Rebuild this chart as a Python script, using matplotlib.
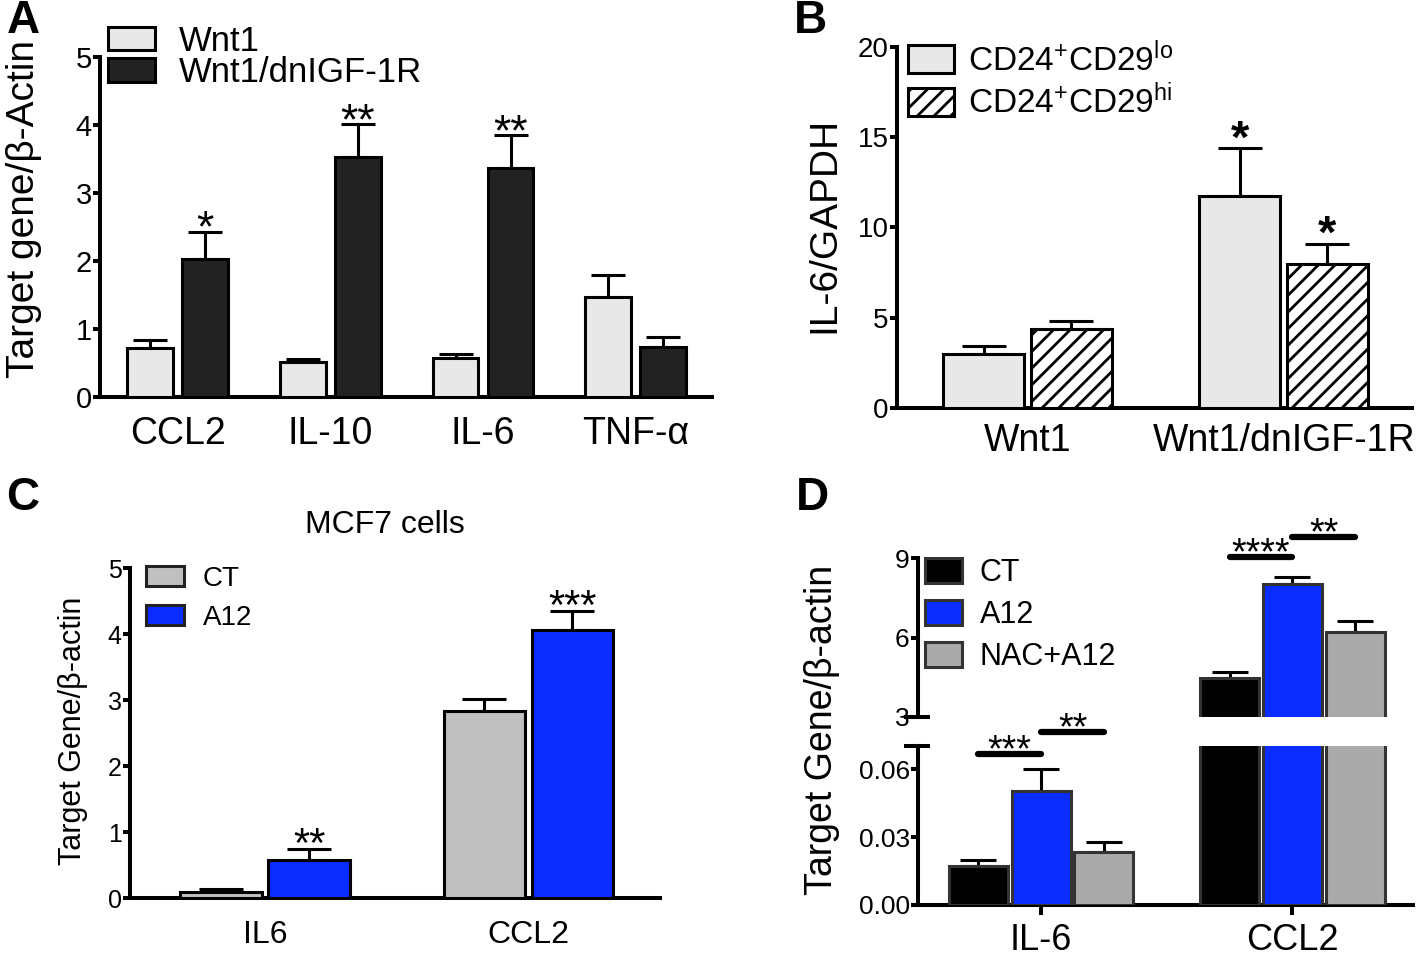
import numpy as np
import matplotlib
matplotlib.use('Agg')
import matplotlib.pyplot as plt
from matplotlib.patches import Patch

plt.rcParams['font.family'] = ['Liberation Sans', 'DejaVu Sans']
plt.rcParams['mathtext.fontset'] = 'custom'
plt.rcParams['mathtext.rm'] = 'Liberation Sans'
plt.rcParams['mathtext.it'] = 'Liberation Sans'
plt.rcParams['hatch.linewidth'] = 2.0

# Panel A
a_genes = ['CCL2', 'IL-10', 'IL-6', 'TNF-α']
a_wnt1 = [0.72, 0.51, 0.57, 1.47]
a_wnt1_err = [0.12, 0.05, 0.06, 0.32]
a_dn = [2.03, 3.53, 3.37, 0.74]
a_dn_err = [0.40, 0.48, 0.48, 0.14]
a_stars = ['*', '**', '**', '']

# Panel B
b_groups = ['Wnt1', 'Wnt1/dnIGF-1R']
b_lo = [2.99, 11.75]
b_lo_err = [0.44, 2.65]
b_hi = [4.38, 7.98]
b_hi_err = [0.44, 1.11]
b_stars_lo = ['', '*']
b_stars_hi = ['', '*']

# Panel C
c_genes = ['IL6', 'CCL2']
c_ct = [0.09, 2.83]
c_ct_err = [0.05, 0.18]
c_a12 = [0.58, 4.06]
c_a12_err = [0.17, 0.29]
c_stars = ['**', '***']

# Panel D
d_genes = ['IL-6', 'CCL2']
d_ct = [0.0172, 4.48]
d_ct_err = [0.0029, 0.21]
d_a12 = [0.0504, 8.02]
d_a12_err = [0.0097, 0.26]
d_nac = [0.0236, 6.20]
d_nac_err = [0.0043, 0.43]
# (group, bar from, bar to, label, height)
d_sig_low = [(0, 0, 1, '***', 0.0667), (0, 1, 2, '**', 0.0764)]
d_sig_up = [(1, 0, 1, '****', 9.04), (1, 1, 2, '**', 9.78)]

W = 1418
H = 956
fig = plt.figure(figsize=(W / 100, H / 100), dpi=100)

LW = 2.9
ELW = 2.2


def px_axes(x0, y0, x1, y1):
    # rectangle given in pixels from top-left
    return fig.add_axes([x0 / W, 1 - y1 / H, (x1 - x0) / W, (y1 - y0) / H])


def style(ax, ysize, xsize, xpad):
    for s in ['top', 'right']:
        ax.spines[s].set_visible(False)
    for s in ['left', 'bottom']:
        ax.spines[s].set_linewidth(LW)
    ax.tick_params(axis='y', direction='out', length=5, width=LW, pad=1, labelsize=ysize)
    ax.tick_params(axis='x', length=0, pad=xpad, labelsize=xsize)


def bars(ax, x, vals, errs, color, width, edge='k', hatch=None, cap=12):
    ax.bar(x, vals, width=width, color=color, edgecolor=edge, linewidth=ELW, hatch=hatch, zorder=3)
    ax.errorbar(x, vals, yerr=[np.zeros(len(errs)), errs], fmt='none', ecolor='k',
                elinewidth=ELW, capsize=cap, capthick=ELW, zorder=2)


def stars(ax, x, tops, labels, size, off=-6, weight='normal'):
    for xi, t, s in zip(x, tops, labels):
        if s:
            ax.annotate(s, (xi, t), xytext=(0, off), textcoords='offset points',
                        ha='center', va='baseline', fontsize=size, fontweight=weight,
                        annotation_clip=False)


# ---------- A ----------
ax = px_axes(100, 57, 712, 397)
x = np.arange(len(a_genes))
w = 0.30
bars(ax, x - 0.18, a_wnt1, a_wnt1_err, '#e8e8e8', w)
bars(ax, x + 0.18, a_dn, a_dn_err, '#222222', w)
stars(ax, x + 0.18, np.add(a_dn, a_dn_err), a_stars, 32, off=-7)
ax.set_xlim(-0.51, 3.50)
ax.set_ylim(0, 5)
ax.set_yticks(range(6))
ax.set_xticks(x)
ax.set_xticklabels(a_genes)
style(ax, 21, 27, 14)
ax.set_ylabel('Target gene/β-Actin', fontsize=28)
ax.yaxis.set_label_coords(-0.095, 0.553)
hA = [Patch(facecolor='#e8e8e8', edgecolor='k', linewidth=ELW, label='Wnt1'),
      Patch(facecolor='#222222', edgecolor='k', linewidth=ELW, label='Wnt1/dnIGF-1R')]
ax.legend(handles=hA, loc='upper left', bbox_to_anchor=(0.013, 1.095), frameon=False,
          fontsize=25, handlelength=1.35, handleheight=0.68, labelspacing=-0.05,
          handletextpad=0.7, borderpad=0, borderaxespad=0)

# ---------- B ----------
ax = px_axes(897, 47, 1412, 408)
x = np.arange(len(b_groups))
w = 0.316
bars(ax, x - 0.172, b_lo, b_lo_err, '#e8e8e8', w, cap=16)
bars(ax, x + 0.17, b_hi, b_hi_err, 'white', w, hatch='//', cap=16)
stars(ax, x - 0.172, np.add(b_lo, b_lo_err), b_stars_lo, 34, off=-3, weight='bold')
stars(ax, x + 0.17, np.add(b_hi, b_hi_err), b_stars_hi, 34, off=-3, weight='bold')
ax.set_xlim(-0.51, 1.50)
ax.set_ylim(0, 20)
ax.set_yticks([0, 5, 10, 15, 20])
ax.set_xticks(x)
ax.set_xticklabels(b_groups)
style(ax, 20, 27, 11)
ax.set_ylabel('IL-6/GAPDH', fontsize=28)
ax.yaxis.set_label_coords(-0.107, 0.507)
hB = [Patch(facecolor='#e8e8e8', edgecolor='k', linewidth=ELW,
            label=r'CD24$^{\mathrm{+}}$CD29$^{\mathrm{lo}}$'),
      Patch(facecolor='white', edgecolor='k', linewidth=ELW, hatch='//',
            label=r'CD24$^{\mathrm{+}}$CD29$^{\mathrm{hi}}$')]
ax.legend(handles=hB, loc='upper left', bbox_to_anchor=(0.021, 1.014), frameon=False,
          fontsize=24, handlelength=1.4, handleheight=0.9, labelspacing=0.2,
          handletextpad=0.4, borderpad=0, borderaxespad=0)

# ---------- C ----------
ax = px_axes(130, 568, 660, 898)
x = np.arange(len(c_genes))
w = 0.31
bars(ax, x - 0.167, c_ct, c_ct_err, '#c0c0c0', w, cap=16)
bars(ax, x + 0.167, c_a12, c_a12_err, '#0a2cff', w, cap=16)
stars(ax, x + 0.167, np.add(c_a12, c_a12_err), c_stars, 30)
ax.set_xlim(-0.513, 1.50)
ax.set_ylim(0, 5)
ax.set_yticks(range(6))
ax.set_xticks(x)
ax.set_xticklabels(c_genes)
style(ax, 18, 23, 16)
ax.set_ylabel('Target Gene/β-actin', fontsize=22)
ax.yaxis.set_label_coords(-0.079, 0.506)
hC = [Patch(facecolor='#c0c0c0', edgecolor='#222222', linewidth=ELW, label='CT'),
      Patch(facecolor='#0a2cff', edgecolor='#222222', linewidth=ELW, label='A12')]
ax.legend(handles=hC, loc='upper left', bbox_to_anchor=(0.03, 1.006), frameon=False,
          fontsize=20, handlelength=1.36, handleheight=0.72, labelspacing=0.45,
          handletextpad=0.7, borderpad=0, borderaxespad=0)
fig.text(385 / W, 1 - 525 / H, 'MCF7 cells', fontsize=23, ha='center', va='center')

# ---------- D (broken axis) ----------
ax_up = px_axes(918, 558, 1413, 717)
ax_lo = px_axes(918, 746, 1413, 905)
x = np.arange(len(d_genes))
w = 0.235
for axd in (ax_up, ax_lo):
    bars(axd, x - 0.25, d_ct, d_ct_err, '#000000', w, edge='#333333', cap=13)
    bars(axd, x, d_a12, d_a12_err, '#0a2cff', w, edge='#333333', cap=13)
    bars(axd, x + 0.25, d_nac, d_nac_err, '#aaaaaa', w, edge='#333333', cap=13)
    axd.set_xlim(-0.49, 1.48)

ax_up.set_ylim(3, 9)
ax_up.set_yticks([3, 6, 9])
style(ax_up, 19, 26, 6)
ax_up.spines['bottom'].set_visible(False)
ax_up.set_xticks([])

ax_lo.set_ylim(0, 0.0704)
ax_lo.set_yticks([0, 0.03, 0.06])
ax_lo.set_yticklabels(['0.00', '0.03', '0.06'])
ax_lo.set_xticks(x)
ax_lo.set_xticklabels(d_genes)
style(ax_lo, 19, 26, 6)
ax_lo.tick_params(axis='x', direction='out', length=7, width=LW)
ax_lo.set_ylabel('Target Gene/β-actin', fontsize=27)
ax_lo.yaxis.set_label_coords(-0.158, 1.10)

# break marks (short bars across the spine)
ax_up.plot([-0.024, 0.02], [0, 0], transform=ax_up.transAxes, color='k', lw=LW, clip_on=False)
ax_lo.plot([-0.024, 0.02], [1, 1], transform=ax_lo.transAxes, color='k', lw=LW, clip_on=False)

offs = [-0.25, 0, 0.25]
for axd, sig in ((ax_lo, d_sig_low), (ax_up, d_sig_up)):
    for g, i, j, s, hgt in sig:
        axd.plot([g + offs[i], g + offs[j]], [hgt, hgt], color='k', lw=4.5, clip_on=False,
                 solid_capstyle='round')
        axd.annotate(s, ((g + offs[i] + g + offs[j]) / 2, hgt), xytext=(0, -5),
                     textcoords='offset points', ha='center', va='baseline', fontsize=27,
                     annotation_clip=False)

hD = [Patch(facecolor='#000000', edgecolor='#333333', linewidth=ELW, label='CT'),
      Patch(facecolor='#0a2cff', edgecolor='#333333', linewidth=ELW, label='A12'),
      Patch(facecolor='#aaaaaa', edgecolor='#333333', linewidth=ELW, label='NAC+A12')]
ax_up.legend(handles=hD, loc='upper left', bbox_to_anchor=(0.014, 1.0), frameon=False,
             fontsize=22, handlelength=1.2, handleheight=0.87, labelspacing=0.4,
             handletextpad=0.6, borderpad=0, borderaxespad=0)

# panel letters
for lab, px, py in [('A', 23, 21), ('B', 810, 21), ('C', 23, 498), ('D', 812, 498)]:
    fig.text(px / W, 1 - py / H, lab, fontsize=33, fontweight='bold', ha='center', va='center')

fig.savefig('out.png', dpi=100)
